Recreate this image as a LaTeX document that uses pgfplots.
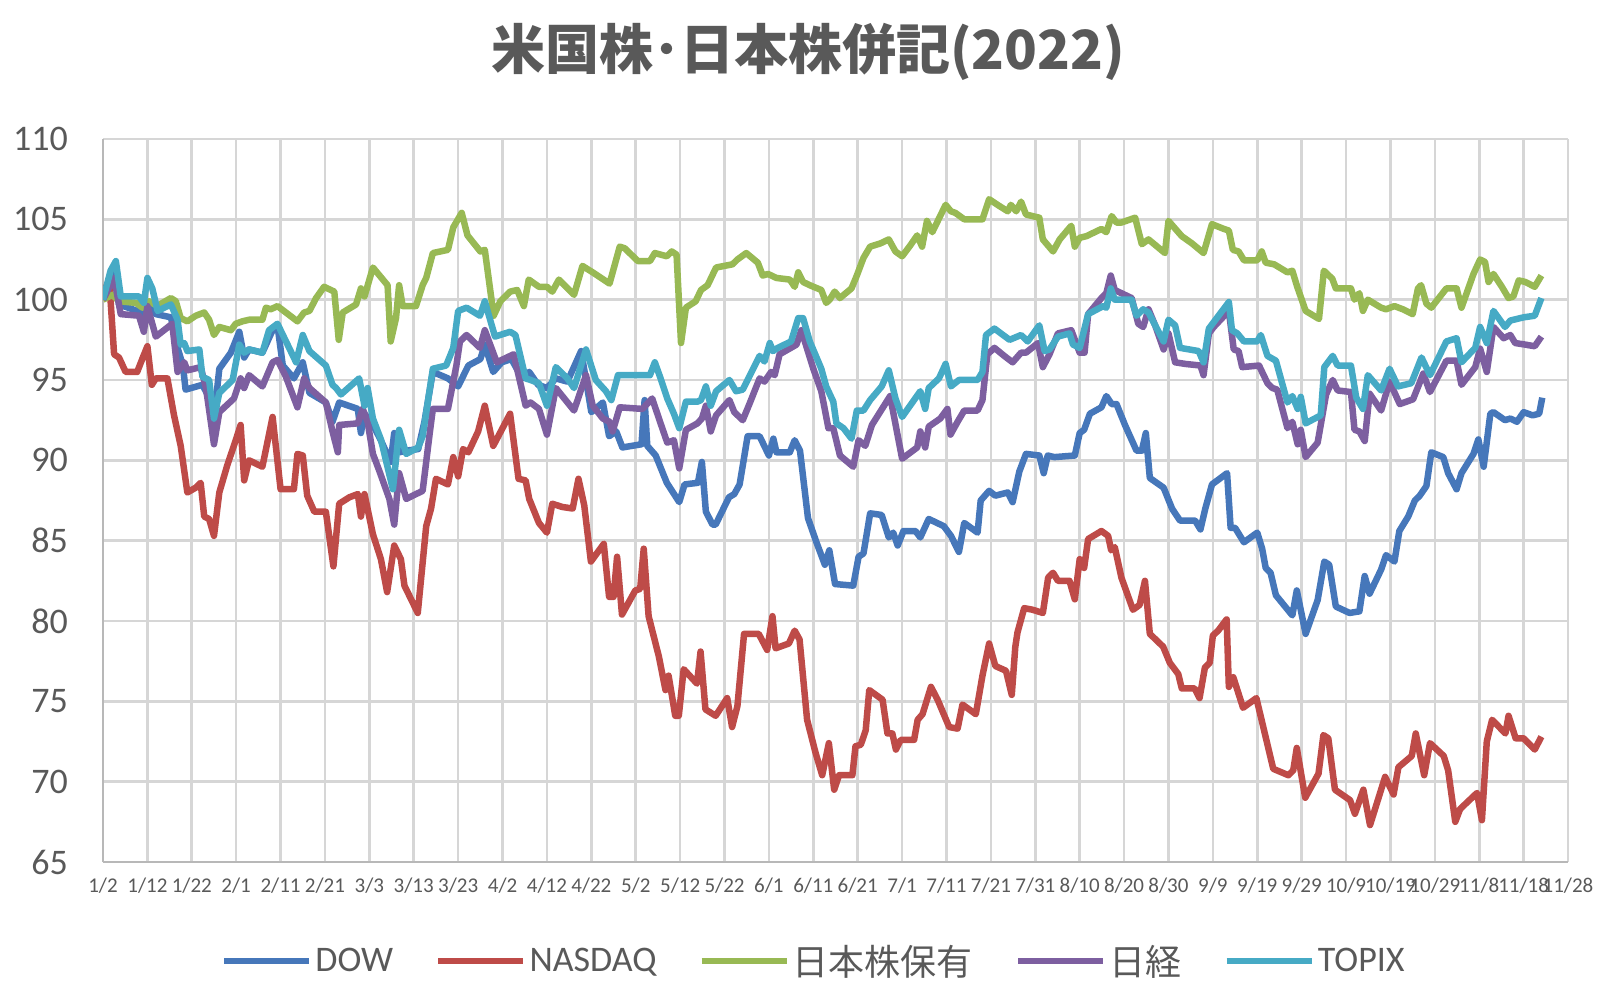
\documentclass[border=0pt]{standalone}
\usepackage{fontspec}
\setmainfont{Carlito}
\newfontfamily\cjk{Noto Sans CJK JP}
\usepackage{pgfplots}
\pgfplotsset{compat=1.18}
\definecolor{cdow}{HTML}{4677BA}
\definecolor{cnas}{HTML}{BE4B48}
\definecolor{cjp}{HTML}{98B954}
\definecolor{cnk}{HTML}{7D5FA0}
\definecolor{ctp}{HTML}{46AAC5}
\definecolor{tcol}{HTML}{595959}
\begin{document}
\begin{tikzpicture}[x=1bp,y=1bp]
\path[use as bounding box] (0,0) rectangle (1612,996);
\node[text=tcol, font=\cjk\bfseries\fontsize{54bp}{60bp}\selectfont] at (808,944) {米国株･日本株併記(2022)};
\begin{axis}[
  at={(103bp,134bp)}, anchor=south west,
  scale only axis, width=1465bp, height=723bp,
  xmin=0, xmax=330, ymin=65, ymax=110,
  xtick={0,10,...,330},
  xticklabels={1/2,1/12,1/22,2/1,2/11,2/21,3/3,3/13,3/23,4/2,4/12,4/22,5/2,5/12,5/22,6/1,6/11,6/21,7/1,7/11,7/21,7/31,8/10,8/20,8/30,9/9,9/19,9/29,10/9,10/19,10/29,11/8,11/18,11/28},
  ytick={65,70,...,110},
  /pgf/number format/assume math mode=true,
  yticklabel style={font=\fontsize{36bp}{40bp}\selectfont, text=tcol, anchor=east, inner sep=0pt, xshift=-35bp},
  xticklabel style={font=\fontsize{21bp}{24bp}\selectfont, text=tcol, anchor=north, inner sep=0pt, yshift=-16bp},
  major tick length=0pt,
  grid=major,
  major grid style={line width=2.6bp, draw=black!16},
  axis x line*=bottom, axis y line*=left,
  axis line style={line width=2.6bp, draw=black!28},
  every axis plot/.append style={line width=6.5bp, line join=round, no markers},
  legend columns=5,
  legend style={at={(axis description cs:0.4845,-0.137)}, anchor=center, draw=none, fill=none,
    font=\fontsize{36bp}{40bp}\selectfont, text=tcol, inner sep=0pt,
    nodes={inner sep=0pt},
    /tikz/every odd column/.append style={column sep=3bp},
    /tikz/every even column/.append style={column sep=42bp}},
  legend image code/.code={\draw[#1] (0bp,0bp) -- (85bp,0bp);},
]
% DOW
\addplot[cdow] coordinates {
(0,100)(2.5,102)(3.6,99.7)(7.7,99.3)(8.9,99.1)(10,99.7)(11.9,99.1)(15.3,98.9)(16.8,97)(18,95.9)(18.6,94.4)(22.4,94.7)(23.9,93.9)(25,92.6)(26.2,95.7)(28.8,96.7)(30.7,98)(31.8,96.4)(32.9,96.9)(35.9,96.7)(38.2,98.1)(39.3,98.4)(40.5,95.9)(43,95.1)(45,96.1)(46.5,94.2)(50.2,93.6)(51.7,92.4)(53.2,93.6)(57.4,93.2)(58.1,91.7)(58.9,92.9)(60.8,92.2)(62.5,91.3)(64.8,89.9)(65.6,91.7)(66.7,90.5)(68.3,90.6)(71,90.7)(72.4,92.4)(74.3,95.5)(77.7,95.1)(80,94.6)(82.3,95.9)(85,96.3)(86,97.2)(87.9,95.5)(89.8,96.1)(92,96.3)(94.4,95.1)(96,95.5)(98,94.7)(100,94.5)(102,95.1)(104.6,94.9)(107.7,96.8)(110,93)(112.6,93.6)(114,91.5)(115.6,91.8)(117,90.8)(121.3,91)(122,93.75)(122.6,90.9)(124.5,90.3)(127,88.6)(129.8,87.4)(131,88.5)(134,88.6)(134.9,89.9)(135.8,86.8)(137.3,86)(138,86)(141,87.7)(142.2,87.9)(143.4,88.5)(145.2,91.5)(147.9,91.5)(150,90.3)(151,91.35)(151.7,90.5)(154.7,90.5)(155.8,91.25)(157,90.6)(158.8,86.4)(160.7,84.9)(162.6,83.5)(163.6,84.4)(164.9,82.3)(169,82.2)(170.2,84)(171.3,84.2)(172.8,86.7)(175.4,86.6)(177,85.2)(178,85.5)(179,84.7)(180.3,85.6)(183,85.6)(184.1,85.2)(186,86.35)(189.4,85.9)(191,85.3)(192.8,84.3)(194,86.1)(197,85.5)(197.7,87.5)(199.6,88.1)(201,87.8)(203.8,88)(204.9,87.4)(206.4,89.3)(207.9,90.4)(210.9,90.3)(211.9,89.2)(212.8,90.3)(214.3,90.2)(218.9,90.3)(220,91.7)(221,91.9)(222.3,92.9)(224.9,93.3)(226,94)(227.2,93.5)(228.3,93.5)(230.2,92.2)(232.8,90.6)(234,90.6)(234.9,91.7)(235.8,88.9)(238.9,88.3)(240.8,87)(241.5,86.7)(242.6,86.25)(246,86.25)(247.2,85.7)(248.3,87)(249.8,88.5)(253.2,89.2)(254,85.8)(255,85.8)(257,84.9)(260,85.5)(261.1,84.5)(261.9,83.3)(263,83)(264.2,81.6)(267.9,80.35)(268.9,81.9)(270.9,79.2)(273.6,81.3)(275.1,83.7)(276.2,83.5)(277.7,80.9)(280.8,80.5)(283,80.6)(284.2,82.8)(285.3,81.7)(287.9,83.2)(289,84.1)(290.9,83.7)(292,85.6)(294,86.5)(295.5,87.5)(296.6,87.8)(298.1,88.4)(299.2,90.5)(301.9,90.2)(303,89.2)(304.9,88.2)(306,89.2)(308.7,90.4)(309.8,91.3)(311,89.6)(312.5,92.9)(313.2,93)(315.8,92.5)(317,92.6)(318.5,92.4)(320,93)(322,92.8)(323.5,92.9)(324.2,93.9)
};
\addlegendentry{DOW}
% NASDAQ
\addplot[cnas] coordinates {
(0,100.3)(1.4,101.25)(2.5,96.6)(3.6,96.4)(5.1,95.5)(7.7,95.5)(8.9,96.35)(10,97.1)(11,94.7)(11.9,95.1)(14.5,95.1)(16,92.8)(17.5,90.9)(19,88)(20.9,88.3)(22,88.6)(22.8,86.5)(23.9,86.35)(25,85.3)(26.2,88)(28,89.7)(29.9,91.25)(31,92.2)(31.8,88.75)(32.9,90)(35.9,89.6)(38.2,92.7)(40,88.2)(43,88.2)(43.8,90.4)(45,90.3)(46,87.8)(47.6,86.8)(50.2,86.8)(51.9,83.4)(53.2,87.3)(55.5,87.7)(57.4,87.9)(58.1,86.5)(58.9,87.9)(60.8,85.4)(62.6,83.85)(64,81.8)(65.6,84.7)(67.1,83.85)(67.9,82.2)(70.9,80.5)(72.8,85.9)(73.9,87)(75,88.85)(77.7,88.5)(78.9,90.2)(80,89)(81.1,90.7)(82.3,90.5)(84.5,91.8)(86,93.4)(87.9,90.9)(91.7,92.9)(93.6,88.85)(95.2,88.75)(96,87.6)(98.2,86.1)(100,85.5)(101.2,87.3)(103.4,87.1)(105.8,87)(107.1,88.85)(108.4,87.2)(109.9,83.7)(112.8,84.8)(114,81.5)(115,81.5)(115.8,84)(116.9,80.4)(119.9,81.9)(121,82)(121.8,84.5)(122.9,80.3)(125.2,77.8)(126.7,75.7)(127.4,76.6)(128.9,74.1)(129.7,74.1)(130.8,77)(133.8,76.1)(134.6,78.1)(135.7,74.5)(138,74.1)(140.6,75.2)(141.7,73.4)(142.9,74.7)(144.4,79.2)(147.7,79.2)(149.6,78.2)(150.8,80.3)(151.5,78.3)(154.5,78.6)(155.8,79.4)(156.9,78.85)(158.6,73.85)(160.5,71.8)(162,70.4)(163.5,72.4)(164.7,69.5)(165.8,70.4)(168.8,70.4)(169.5,72.2)(170.7,72.3)(171.8,73.2)(172.6,75.7)(175.6,75.1)(176.7,73)(177.8,73)(178.6,72)(179.7,72.6)(182.7,72.6)(183.5,73.85)(184.6,74.2)(186.5,75.9)(188,75.1)(190.6,73.4)(192.5,73.3)(193.6,74.8)(196.6,74.2)(198.1,76.6)(199.6,78.6)(201,77.2)(203.4,76.9)(204.7,75.4)(205.5,78.4)(206,79.3)(207.5,80.8)(209.4,80.7)(211.7,80.5)(212.9,82.7)(214,83)(215.1,82.5)(217.7,82.5)(218.9,81.35)(220,83.85)(221,83.3)(221.9,85.1)(224.9,85.6)(226.4,85.3)(227.1,84.4)(227.9,84.6)(229.4,82.7)(232,80.7)(233.5,81)(234.7,82.5)(235.8,79.2)(238.8,78.4)(240.3,77.4)(242.2,76.7)(243,75.8)(245.9,75.8)(247,75.2)(248.2,77.1)(249.3,77.4)(250,79.1)(251.2,79.4)(253.1,80.1)(253.6,75.9)(254.6,76.5)(256.8,74.6)(259.8,75.2)(261.7,73)(263.6,70.8)(267,70.4)(268.1,70.7)(268.9,72.1)(270.8,69)(273.8,70.5)(274.9,72.9)(276,72.7)(277.5,69.5)(280.9,68.85)(282,68)(283.9,69.5)(285.4,67.3)(288.8,70.3)(290.7,69.2)(291.8,70.9)(294.8,71.6)(295.7,73)(297.6,70.4)(298.9,72.4)(302,71.6)(303,70.7)(304.6,67.5)(305.7,68.3)(309.5,69.3)(310.6,67.6)(311.7,72.5)(312.9,73.85)(315.9,73)(316.6,74.1)(318.2,72.7)(320,72.7)(322.5,72)(324,72.8)
};
\addlegendentry{NASDAQ}
% Japan holdings
\addplot[cjp] coordinates {
(0,100)(2.1,100.3)(3.6,99.9)(7.4,99.8)(8.9,99.5)(10.4,99.9)(12.3,99.6)(13.4,99.8)(15.3,100.1)(16.4,99.9)(17.5,98.85)(19,98.65)(20.9,99)(22.8,99.2)(23.9,98.75)(25,97.8)(26.2,98.3)(28.8,98.1)(29.9,98.5)(31.4,98.65)(32.9,98.75)(35.9,98.75)(36.7,99.5)(37.8,99.4)(39.3,99.6)(41.2,99.2)(43.8,98.65)(45.3,99.2)(46.5,99.3)(48,100.1)(49.8,100.8)(52.1,100.5)(53.1,97.5)(54,99.2)(57,99.7)(58.1,100.7)(58.9,100.2)(60.8,102)(64.1,100.9)(64.8,97.4)(66,98.85)(66.7,100.9)(67.5,99.6)(70.5,99.6)(72,100.9)(72.8,101.35)(74.3,102.9)(77.7,103.1)(78.9,104.5)(80.8,105.4)(82.1,104)(85,103)(86,103.1)(88,99)(89.5,99.9)(91.7,100.5)(93.3,100.6)(94.8,99.6)(95.9,101.25)(98.2,100.8)(100,100.8)(101.2,100.5)(102.7,101.25)(106.1,100.3)(108,102.1)(110.3,101.7)(114.1,101)(116.4,103.3)(117.5,103.2)(120.5,102.4)(123.2,102.4)(124.3,102.9)(127,102.7)(128.1,103)(129.2,102.8)(130.2,97.3)(131.3,99.5)(133.5,99.9)(134.7,100.6)(136.2,100.9)(138.1,102)(141.8,102.2)(142.9,102.5)(144.9,102.9)(147.5,102.3)(148.6,101.5)(149.8,101.6)(151.7,101.35)(154.7,101.25)(155.8,100.8)(156.6,101.7)(157.7,101.1)(159.2,100.9)(161.8,100.6)(162.9,99.8)(163.7,100)(164.8,100.5)(166,100.1)(168.6,100.7)(169.8,101.5)(171.3,102.6)(172.8,103.3)(175.1,103.5)(177,103.75)(178.5,103)(180,102.7)(181.9,103.4)(183.4,104)(184.5,103.3)(185.6,104.9)(186.8,104.2)(189.8,105.9)(191,105.5)(192,105.4)(194,105)(198.1,105)(199.6,106.25)(201.5,105.9)(203.8,105.5)(204.5,105.9)(205.7,105.5)(206.8,106.1)(207.9,105.3)(210.9,105.1)(211.7,103.75)(214,103)(215.5,103.75)(218.1,104.6)(218.9,103.3)(220,103.85)(221.5,103.95)(224.9,104.4)(226,104.2)(227.2,105.2)(228.3,104.8)(229.4,104.8)(232.5,105.1)(234,103.45)(235.5,103.75)(239.2,102.9)(240,104.9)(243,103.95)(245.3,103.5)(247.9,102.9)(249.8,104.7)(252.5,104.4)(253.6,104.3)(254.5,103.1)(255.8,103)(257,102.45)(260,102.45)(261,103)(261.9,102.3)(263.8,102.2)(266.8,101.7)(267.9,101.8)(269,100.8)(270.9,99.3)(273.9,98.8)(275,101.8)(276.9,101.3)(277.7,100.7)(281.1,100.7)(281.9,100)(283,100.4)(283.8,99.3)(284.9,100)(287.9,99.5)(289,99.4)(290.9,99.6)(292.8,99.4)(295,99.1)(296.2,100.7)(296.9,100.9)(298.1,99.75)(299.2,99.5)(302.6,100.7)(304.9,100.7)(306,99.5)(308.7,101.6)(310.2,102.5)(311.3,102.35)(312.1,101.1)(313.2,101.6)(315.1,100.8)(316.6,100.1)(317.7,100.2)(318.9,101.2)(320.4,101.1)(322.5,100.8)(324,101.5)
};
\addlegendentry{{\cjk 日本株保有}}
% Nikkei
\addplot[cnk] coordinates {
(0,100)(2.5,101.35)(4,99.1)(8.1,99)(9.2,98)(10,99.6)(11.9,97.7)(15.6,98.5)(16.8,95.5)(18.3,96.1)(19,95.6)(22,95.8)(23.2,94.5)(25,91)(26.2,93)(29.5,93.85)(31,95.1)(31.8,94.5)(32.9,95.3)(35.9,94.6)(38.2,96.1)(39.3,96.25)(41.2,95.2)(43.8,93.3)(45.3,95.1)(46.5,94.5)(50.2,93.6)(51.7,91.8)(52.9,90.5)(53.2,92.2)(57.4,92.3)(58.5,93.2)(59.6,92.4)(60.8,90.4)(62.3,89.3)(64.5,87.6)(65.6,86)(66.7,89.2)(68.3,87.6)(72,88.1)(73.6,91.7)(74.3,93.2)(77.7,93.2)(79.6,95.9)(80.4,97.4)(81.9,97.8)(84.9,97)(86,98.1)(88.7,96.1)(92.5,96.6)(95.2,93.4)(96.3,93.6)(98.2,93.2)(100,91.6)(102,94.5)(106.1,93.1)(108.8,95.3)(110.3,93.4)(112.6,92.6)(114.1,92.4)(114.8,91.8)(116.4,93.3)(121.5,93.2)(123.7,93.85)(125.6,92.3)(127.1,91.1)(128.6,91.25)(129.8,89.5)(131.3,91.9)(133.9,92.3)(134.9,92.6)(135.8,93.4)(136.9,91.8)(138.1,92.8)(141.1,93.75)(142.2,93)(144.1,92.5)(145.6,93.5)(147.9,95.1)(149,94.9)(150.5,95.5)(151.3,95.3)(152.4,96.6)(156.2,97.2)(157.3,98.1)(160,95.7)(161.8,94.3)(163.4,92)(164.5,92)(166,90.3)(169,89.6)(170.2,91.25)(171.7,90.9)(173.2,92.2)(177.3,94)(180,90.1)(183.4,90.8)(184.1,91.8)(185.2,90.8)(186,92.1)(188.6,92.6)(190.2,93.2)(190.9,91.6)(192.5,92.4)(194,93.1)(197,93.1)(198.1,93.75)(199.2,96.6)(200.8,97)(203,96.5)(204.9,96.1)(206.8,96.7)(207.9,96.7)(210.6,97.3)(211.7,95.8)(213.2,96.6)(215.1,97.9)(218.1,98.1)(220,96.7)(221.1,96.7)(221.9,99.1)(224.9,100.1)(226,100.4)(227,101.5)(227.9,100.6)(231.7,100.1)(233.2,98.5)(234.3,98.3)(235.5,99.4)(237,98.4)(238.9,96.9)(240,97.9)(241.5,96.1)(243.8,96)(247.2,95.9)(247.9,95.3)(249.1,97.9)(250.2,98.3)(253.6,99.3)(254.7,96.9)(255.8,96.8)(256.6,95.8)(260.4,95.9)(262.3,94.8)(263.4,94.5)(264.5,94.4)(266.8,92)(267.9,92.4)(269.1,91)(269.8,91.9)(270.9,90.2)(273.6,91.1)(275.5,94.1)(277,95)(278.1,94.35)(281.1,94.25)(281.9,91.9)(283,91.8)(284.2,91.2)(285.3,94.15)(287.9,93.1)(289.8,94.9)(292.1,93.5)(295.1,93.8)(297.4,95.4)(298.9,94.25)(302.6,96.2)(304.9,96.2)(306,94.7)(309.1,95.8)(310.2,96.95)(311.7,95.5)(313.2,98.3)(315.5,97.6)(317,97.8)(318.1,97.3)(320.4,97.2)(322.5,97.1)(324,97.7)
};
\addlegendentry{{\cjk 日経}}
% TOPIX
\addplot[ctp] coordinates {
(0,100)(1.7,101.8)(2.9,102.4)(4,100.2)(8.1,100.2)(9.2,99.8)(10,101.35)(11.1,100.7)(12.3,99.3)(15.3,99.7)(16.8,98.75)(17.5,97.2)(18.3,97.3)(19,96.8)(21.7,96.9)(22.4,95.2)(23.9,95)(25,92.6)(26.2,94.2)(29.2,95)(30.7,97.2)(31.8,96.7)(32.9,96.9)(35.9,96.7)(37.4,98.1)(39.3,98.5)(43.5,96.1)(45,97.8)(46.5,96.8)(50.2,95.9)(51.7,94.7)(52.5,94.5)(53.6,94.1)(57.7,95.1)(58.9,93.4)(59.6,94.5)(60.8,92.6)(62.6,91.3)(65.3,88.2)(66.7,91.9)(68.3,90.4)(71,90.8)(72,91.5)(74.3,95.7)(77.3,95.9)(78.9,97)(80,99.3)(81.9,99.5)(84.9,99)(86,99.9)(88.3,97.7)(91.7,98)(92.9,97.8)(95.2,95.1)(96.3,95)(98.2,94.8)(100,93.4)(102,95.8)(104.6,95.1)(106.1,94.5)(108.8,96.9)(111,95)(113.3,94.3)(114.5,93.75)(116,95.3)(123.2,95.3)(124.3,96.1)(125.6,95.1)(127.1,93.85)(128.6,92.9)(129.8,92)(131.3,93.65)(133.9,93.65)(134.7,93.75)(135.8,94.6)(136.9,93.4)(138.1,94.3)(141.1,95)(142.6,94.3)(144.1,94.4)(147.9,96.5)(149,96.15)(150.2,97.3)(150.9,96.8)(152,97)(155,97.4)(156.6,98.85)(157.7,98.85)(159.2,97.4)(161.8,95.7)(162.9,94.6)(164.5,93.65)(165.2,92.3)(166.8,92)(168.6,91.35)(169.8,93.1)(171.3,93.1)(172.8,93.75)(175.4,94.6)(177,95.6)(178.5,93.85)(180,92.7)(184.1,94.3)(185.2,93.2)(186,94.5)(188.3,95.1)(189.8,96)(191,94.6)(192.8,95)(197,95)(198.1,95.5)(198.9,97.8)(200.8,98.2)(204.2,97.5)(206.8,97.8)(208.3,97.4)(210.9,98.4)(212.1,96.8)(213.2,96.9)(215.1,97.7)(217.7,97.9)(218.5,97.2)(220,97)(221.9,99.1)(225.3,99.6)(226,99.5)(227,100.7)(227.9,100)(231.7,100)(232.8,99)(234.3,99.4)(235.5,99.2)(238.9,97.4)(240,98.75)(241.5,98.4)(242.6,97)(246.8,96.8)(247.9,96.1)(249.1,98.2)(253.6,99.85)(254.3,98.1)(255.5,97.9)(257,97.4)(260,97.4)(260.8,97.8)(262.3,96.5)(264.2,96.2)(266.8,93.6)(267.9,94)(269.1,93.2)(269.8,93.95)(270.9,92.3)(274.3,92.8)(275.1,95.8)(277,96.5)(278.1,95.9)(281.1,95.9)(282.3,93.9)(283.8,93.2)(284.9,95.3)(287.9,94.35)(289.8,95.7)(291.7,94.6)(294.7,94.8)(297,96.4)(298.9,95.3)(302.6,97.4)(304.9,97.6)(306,96.1)(309.1,97)(310.2,98.3)(311.7,97.3)(313.2,99.3)(315.8,98.3)(317,98.7)(320,98.9)(322.5,99)(324,100.1)
};
\addlegendentry{TOPIX}
\end{axis}
\end{tikzpicture}
\end{document}
